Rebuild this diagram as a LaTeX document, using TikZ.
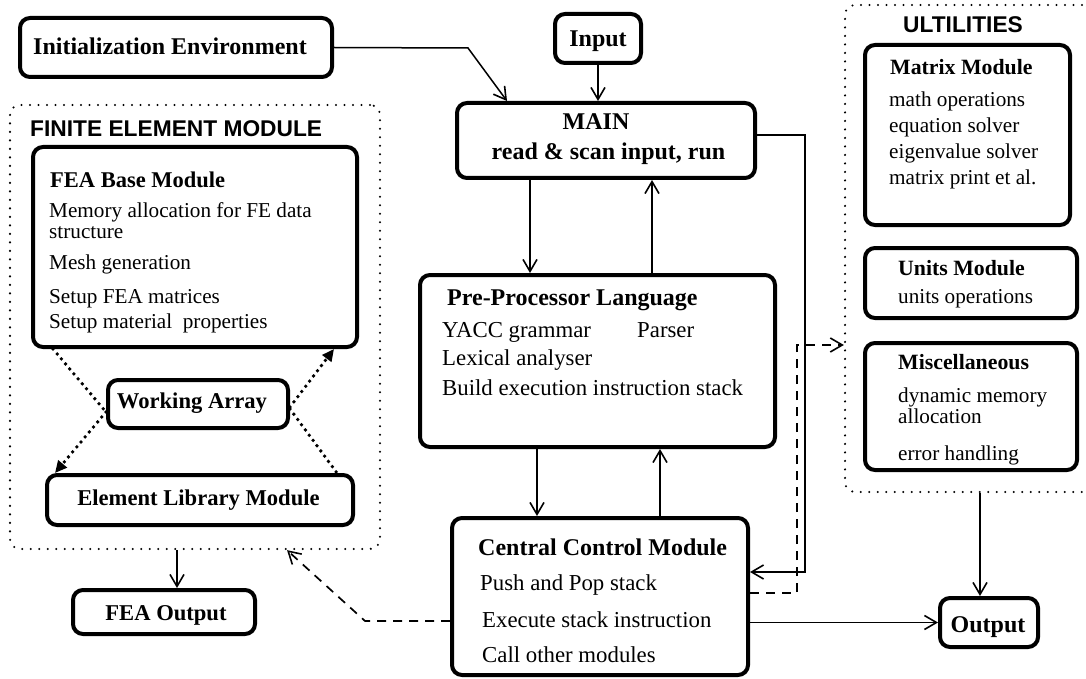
\documentclass[tikz,border=0pt]{standalone}
\usepackage{fontspec}
\setmainfont{Liberation Serif}
\newfontfamily\headfont{Liberation Sans}
\usetikzlibrary{arrows.meta}
\begin{document}
\begin{tikzpicture}[x=1pt,y=-1pt,
 box/.style={draw, line width=4pt, rounded corners=10pt, inner sep=0pt},
 grp/.style={draw, line width=2.3pt, dash pattern=on 0pt off 8.5pt, line cap=round, rounded corners=10pt, inner sep=0pt},
 ttl/.style={inner sep=0pt, anchor=base west, font=\bfseries\fontsize{24}{26}\selectfont},
 cttl/.style={inner sep=0pt, anchor=base, font=\bfseries\fontsize{24}{26}\selectfont},
 sttl/.style={inner sep=0pt, anchor=base west, font=\bfseries\fontsize{22.5}{24}\selectfont},
 csttl/.style={inner sep=0pt, anchor=base, font=\bfseries\fontsize{22.6}{24}\selectfont},
 txt/.style={inner sep=0pt, anchor=base west, font=\fontsize{21.2}{23}\selectfont},
 ctxt/.style={inner sep=0pt, anchor=base west, font=\fontsize{22.8}{24}\selectfont},
 head/.style={inner sep=0pt, anchor=base west, font=\headfont\bfseries\fontsize{22.75}{24}\selectfont},
 arr/.style={line width=1.5pt, -{Straight Barb[length=12pt,width=14pt,line width=1.6pt]}},
 dashline/.style={line width=1.7pt, dash pattern=on 9pt off 7pt},
 dotline/.style={line width=3.8pt, dash pattern=on 0pt off 6.5pt, line cap=round},
 dottip/.style={-{Triangle[length=12pt,width=11pt]}},
]
\useasboundingbox (0,0) rectangle (1086,679);

% group containers
\node[grp, minimum width=370pt, minimum height=444pt] (fem) at (195,327) {};
\node[grp, minimum width=247pt, minimum height=487pt] (util) at (968.5,248.5) {};

% boxes
\node[box, minimum width=312pt, minimum height=59pt] (init) at (176,47.5) {};
\node[box, minimum width=86pt, minimum height=49pt] (input) at (598,38.5) {};
\node[box, minimum width=298pt, minimum height=75pt] (main) at (606,140.5) {};
\node[box, minimum width=324pt, minimum height=200pt] (feabase) at (195,247) {};
\node[box, minimum width=180pt, minimum height=48pt] (work) at (198,404) {};
\node[box, minimum width=306pt, minimum height=50pt] (elem) at (200,500) {};
\node[box, minimum width=182pt, minimum height=44pt] (feaout) at (164,612) {};
\node[box, minimum width=355pt, minimum height=172pt] (ppl) at (597.5,361) {};
\node[box, minimum width=296pt, minimum height=157pt] (ccm) at (600,596.5) {};
\node[box, minimum width=205pt, minimum height=180pt] (matrix) at (967.5,135) {};
\node[box, minimum width=212pt, minimum height=70pt] (units) at (971,283) {};
\node[box, minimum width=212pt, minimum height=127pt] (misc) at (971,406.5) {};
\node[box, minimum width=98pt, minimum height=49pt] (output) at (989,622.5) {};

% texts
\node[ttl] (tinit) at (33,55) {Initialization Environment};
\node[cttl] (tinput) at (598,47) {Input};
\node[cttl] (tmain1) at (596,130) {MAIN};
\node[cttl] (tmain2) at (608.5,160) {read \& scan input, run};
\node[head] (tfem) at (30,137) {FINITE ELEMENT MODULE};
\node[sttl] (tfea) at (50,187) {FEA Base Module};
\node[txt] (tfea1) at (49,218) {Memory allocation for FE data};
\node[txt] (tfea2) at (49,238) {structure};
\node[txt] (tfea3) at (49,269) {Mesh generation};
\node[txt] (tfea4) at (49,303) {Setup FEA matrices};
\node[txt] (tfea5) at (49,328) {Setup material\ \ properties};
\node[csttl] (twork) at (192,408) {Working Array};
\node[csttl] (telem) at (198.5,505) {Element Library Module};
\node[csttl] (tfeaout) at (166,620) {FEA Output};
\node[ttl] (tppl) at (447,305) {Pre-Processor Language};
\node[ctxt] (tppl1) at (442,337) {YACC grammar};
\node[ctxt] (tppl2) at (637,337) {Parser};
\node[ctxt] (tppl3) at (442,365) {Lexical analyser};
\node[ctxt] (tppl4) at (442,395) {Build execution instruction stack};
\node[ttl] (tccm) at (478,555) {Central Control Module};
\node[ctxt] (tccm1) at (480,590) {Push and Pop stack};
\node[ctxt] (tccm2) at (482,627) {Execute stack instruction};
\node[ctxt] (tccm3) at (482,662) {Call other modules};
\node[head, anchor=base] (tutil) at (963,33) {ULTILITIES};
\node[sttl, font=\bfseries\fontsize{21.8}{23}\selectfont] (tmat) at (890,75) {Matrix Module};
\node[txt] (tmat1) at (889,107) {math operations};
\node[txt] (tmat2) at (889,133) {equation solver};
\node[txt] (tmat3) at (889,159) {eigenvalue solver};
\node[txt] (tmat4) at (889,185) {matrix print et al.};
\node[sttl, font=\bfseries\fontsize{21.8}{23}\selectfont] (tunits) at (898,275) {Units Module};
\node[txt] (tunits1) at (898,303) {units operations};
\node[sttl, font=\bfseries\fontsize{21.8}{23}\selectfont] (tmisc) at (898,369) {Miscellaneous};
\node[txt] (tmisc1) at (898,402) {dynamic memory};
\node[txt] (tmisc2) at (898,423) {allocation};
\node[txt] (tmisc3) at (898,460) {error handling};
\node[cttl] (toutput) at (988,632) {Output};

% helper coordinates
\coordinate (bA) at (468,48);
\coordinate (xa) at (530,0);
\coordinate (xb) at (652,0);
\coordinate (xc) at (537,0);
\coordinate (xd) at (660,0);
\coordinate (R1) at (805,135);
\coordinate (R2) at (805,572);
\coordinate (D1) at (797,593);
\coordinate (D2) at (797,345);
\coordinate (D3) at (365,621);
\coordinate (xu) at (980,0);
\coordinate (xf) at (177,0);

% connectors
\draw[arr] (init.east) -- (bA) -- ([xshift=-99pt]main.north);
\draw[arr] (input.south) -- (main.north -| input.south);
\draw[arr] (main.south -| xa) -- (ppl.north -| xa);
\draw[arr] (ppl.north -| xb) -- (main.south -| xb);
\draw[arr] (ppl.south -| xc) -- (ccm.north -| xc);
\draw[arr] (ccm.north -| xd) -- (ppl.south -| xd);
\draw[arr] (main.east |- R1) -- (R1) -- (R2) -- (ccm.east |- R2);
\draw[arr, dashline] (ccm.east |- D1) -- (D1) -- (D2) -- (util.west |- D2);
\draw[arr, dashline] (ccm.west |- D3) -- (D3) -- ([xshift=92pt]fem.south);
\draw[arr] (ccm.east |- output.west) -- (output.west);
\draw[arr] (util.south -| xu) -- (output.north -| xu);
\draw[arr] (fem.south -| xf) -- (feaout.north -| xf);

% working array dotted links
\draw[dotline] ([xshift=22pt]feabase.south west) -- ([yshift=-8pt]work.west);
\draw[dotline, dottip] ([yshift=-8pt]work.west) -- ([xshift=10pt]elem.north west);
\draw[dotline, dottip] ([yshift=-3pt]work.east) -- ([xshift=-25pt]feabase.south east);
\draw[dotline] ([yshift=-5pt]work.east) -- ([xshift=-18pt]elem.north east);
\end{tikzpicture}
\end{document}
